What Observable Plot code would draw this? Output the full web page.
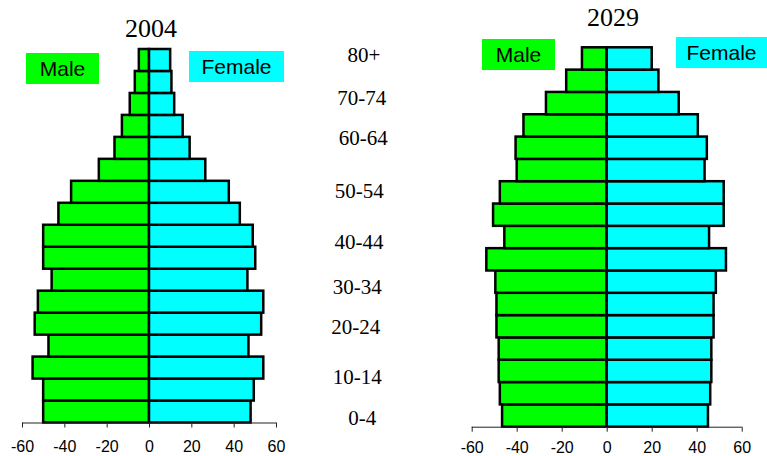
<!DOCTYPE html>
<html><head><meta charset="utf-8">
<script src="https://cdn.jsdelivr.net/npm/d3@7"></script>
<script src="https://cdn.jsdelivr.net/npm/@observablehq/plot@0.6"></script>
<style>
body{margin:0;background:#fff}
#c{position:relative;width:767px;height:456px;overflow:hidden;background:#fff}
.t{position:absolute;font-family:"Liberation Serif","Times New Roman",serif;color:#000;white-space:nowrap;line-height:1;transform:translate(-50%,-50%)}
.box{position:absolute;display:flex;align-items:center;justify-content:center;font-family:"Liberation Sans",Arial,sans-serif;font-size:21px;color:#000;line-height:1}
#c svg{position:absolute;top:0}
</style></head><body><div id="c"></div>
<script>
// age groups, bottom to top
const ages = ["0-4","5-9","10-14","15-19","20-24","25-29","30-34","35-39","40-44","45-49","50-54","55-59","60-64","65-69","70-74","75-79","80+"];
const male2004   = [50, 50, 55, 47.5, 54, 52.5, 46, 50, 50, 42.8, 36.8, 23.7, 16.3, 12.8, 9.1, 6.7, 4.8];
const female2004 = [48, 49.5, 54, 47, 53, 54, 46.5, 50.2, 49, 42.9, 37.7, 26.6, 19.2, 15.9, 11.9, 10.6, 10];
const male2029   = [46.5, 47.5, 48, 48, 49, 49, 49.5, 53.5, 45.5, 50.5, 47.5, 40, 40.5, 37, 27, 18, 11];
const female2029 = [45, 46, 46.5, 46.5, 47.5, 47.5, 48.5, 53, 45.5, 52, 52, 43.5, 44.5, 40.5, 32, 23, 20];
const xTicks = [-60, -40, -20, 0, 20, 40, 60];
const midLabels = ["80+","70-74","60-64","50-54","40-44","30-34","20-24","10-14","0-4"];
const years = ["2004", "2029"];
const legendText = ["Male", "Female"];

const c = document.getElementById("c");

function pyramid(male, female, o) {
  const rows = ages.map((a, i) => ({age: a, i, male: male[i], female: female[i]}));
  const svg = Plot.plot({
    width: o.width, height: 456,
    marginLeft: o.mL, marginRight: o.mR, marginTop: o.mT, marginBottom: o.mB,
    style: {fontFamily: "Liberation Sans, Arial, sans-serif", fontSize: "16px", color: "#000", background: "transparent", overflow: "visible"},
    x: {domain: [-60, 60]},
    y: {domain: [0, 17], axis: null},
    marks: [
      Plot.rect(rows, {x1: d => -d.male, x2: d => 0, y1: "i", y2: d => d.i + 1, fill: "#00ff00", stroke: "#000", strokeWidth: 2.5}),
      Plot.rect(rows, {x1: d => 0, x2: "female", y1: "i", y2: d => d.i + 1, fill: "#00ffff", stroke: "#000", strokeWidth: 2.5}),
      Plot.ruleY([0], {x1: -60, x2: 60, stroke: "#222", strokeWidth: 1}),
      Plot.axisX({ticks: xTicks, tickSize: 5, tickPadding: o.pad, tickFormat: d => String(d), fontSize: 16, label: null, stroke: "#222"})
    ]
  });
  svg.style.left = o.left + "px";
  c.appendChild(svg);
}

pyramid(male2004, female2004, {left: 0, width: 300, mL: 22, mR: 24, mT: 49, mB: 33.5, pad: 12.5});
pyramid(male2029, female2029, {left: 460, width: 307, mL: 11.7, mR: 25.3, mT: 47.3, mB: 29.3, pad: 9});

function addText(txt, x, y, size) {
  const d = document.createElement("div");
  d.className = "t";
  d.textContent = txt;
  d.style.left = x + "px"; d.style.top = y + "px"; d.style.fontSize = size + "px";
  c.appendChild(d);
}
addText(years[0], 151, 29, 26);
addText(years[1], 613, 18, 26);

const midPos = [[364,55],[361.7,97.7],[363.3,138.3],[359.3,191],[359,241.7],[357.3,287.3],[355.7,326.7],[357.3,376.7],[362.3,418.3]];
midLabels.forEach((l, k) => addText(l, midPos[k][0], midPos[k][1], 21));

function addBox(txt, x, y, w, h, color) {
  const d = document.createElement("div");
  d.className = "box";
  d.textContent = txt;
  Object.assign(d.style, {left: x + "px", top: y + "px", width: w + "px", height: h + "px", background: color});
  c.appendChild(d);
}
addBox(legendText[0], 26, 53, 73, 31, "#00ff00");
addBox(legendText[1], 189, 51, 95, 31, "#00ffff");
addBox(legendText[0], 482, 39, 73, 31, "#00ff00");
addBox(legendText[1], 676, 37, 91, 31, "#00ffff");
</script></body></html>
